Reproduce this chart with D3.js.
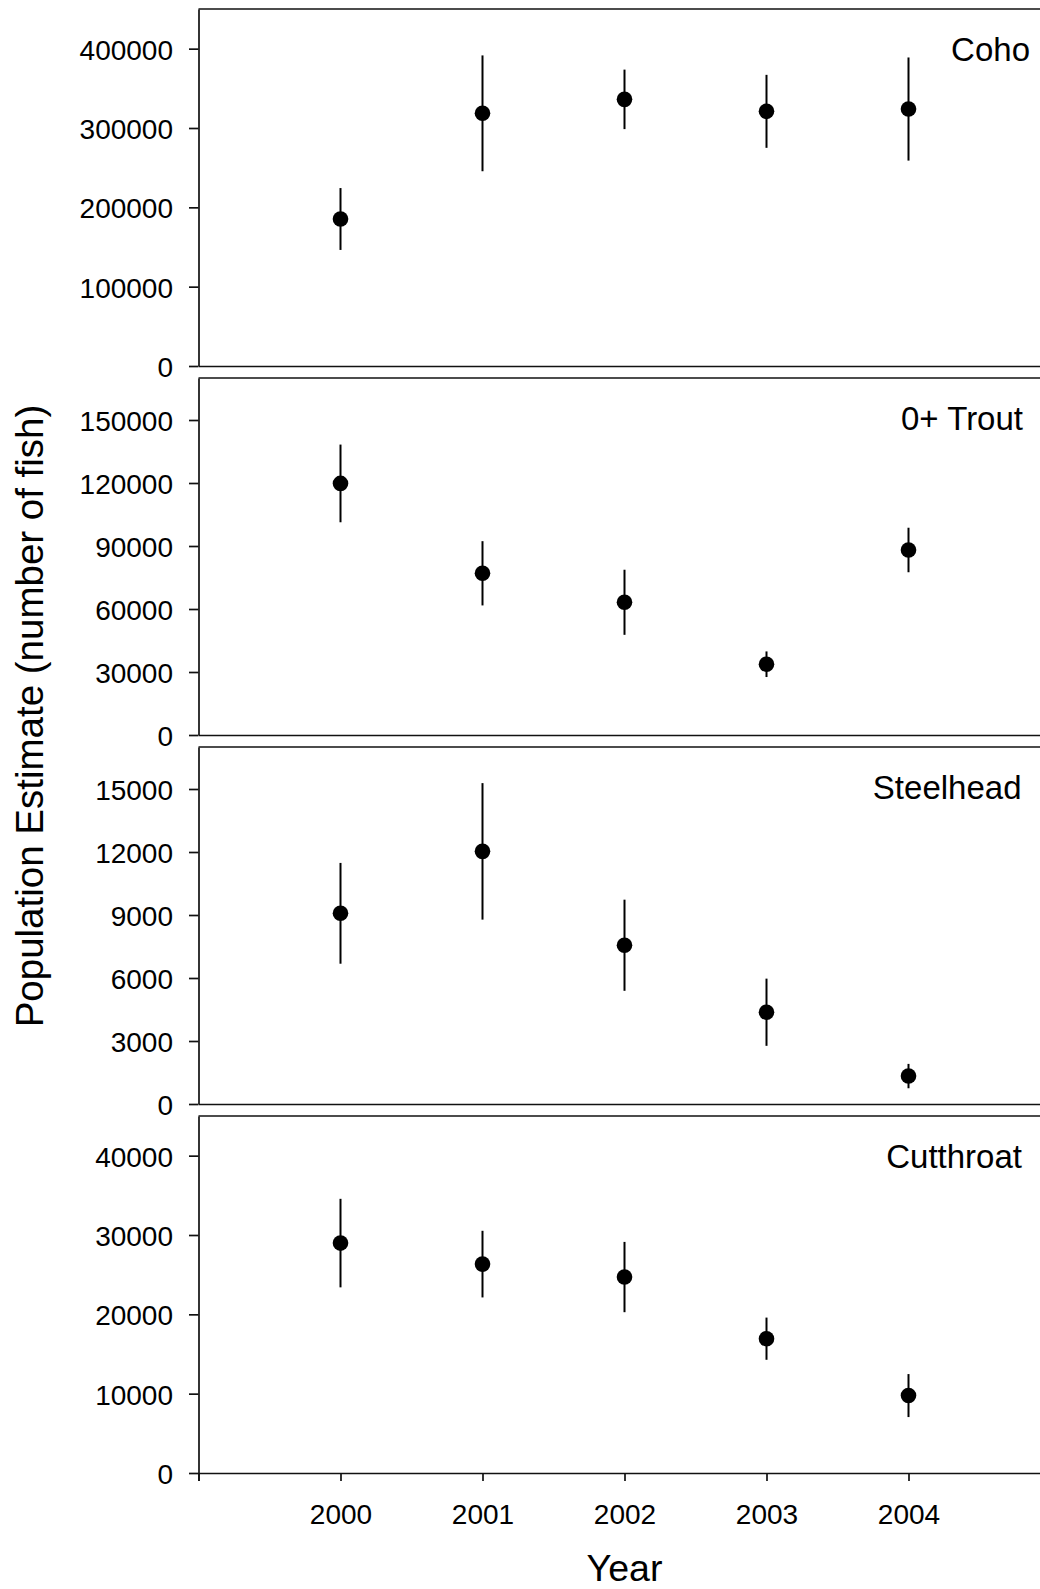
<!DOCTYPE html>
<html>
<head>
<meta charset="utf-8">
<script src="https://cdnjs.cloudflare.com/ajax/libs/d3/7.8.5/d3.min.js"></script>
<style>
	body { margin: 0; background: #fff; }
	svg { display: block; font-family: Arial, "Liberation Sans", sans-serif; }
</style>
</head>
<body>
<div id="plot"></div>
<script>
// data (estimate +/- half width of error bar)
var years = [2000, 2001, 2002, 2003, 2004];
var xTicks = [1999, 2000, 2001, 2002, 2003, 2004, 2005];
var species = ["Coho", "0+ Trout", "Steelhead", "Cutthroat"];

var cohoEst = [185300, 318500, 336100, 321000, 323900];
var cohoErr = [39000, 73000, 37500, 46000, 65000];
var troutEst = [119800, 77000, 63200, 33700, 88100];
var troutErr = [18500, 15300, 15500, 6100, 10600];
var steelEst = [9080, 12030, 7560, 4370, 1330];
var steelErr = [2400, 3250, 2170, 1600, 580];
var cuttEst = [28980, 26330, 24700, 16930, 9760];
var cuttErr = [5580, 4200, 4430, 2660, 2710];

var yMax = [450000, 170000, 17000, 45000];
var yTicks = [
	[0, 100000, 200000, 300000, 400000],
	[0, 30000, 60000, 90000, 120000, 150000],
	[0, 3000, 6000, 9000, 12000, 15000],
	[0, 10000, 20000, 30000, 40000]
];

var estimates = [cohoEst, troutEst, steelEst, cuttEst];
var errors = [cohoErr, troutErr, steelErr, cuttErr];

(function(){

	// layout
	var width = 1040, height = 1589;
	var left = 198.5, right = 1050.5;
	var firstTop = 9, panelH = 357, panelStep = 369;
	var labelRight = [1030, 1023, 1021.5, 1022];
	var fontFam = "Arial, 'Liberation Sans', sans-serif";

	var svg = d3.select("#plot").append("svg")
		.attr("width", width)
		.attr("height", height);

	var x = d3.scaleLinear().domain([1999, 2005]).range([left, right]);

	for (var p = 0; p < species.length; p++) {
		var pTop = firstTop + p * panelStep;
		var pBottom = pTop + panelH;
		var y = d3.scaleLinear().domain([0, yMax[p]]).range([pBottom, pTop]);
		var g = svg.append("g");

		// top border
		g.append("line")
			.attr("x1", left).attr("x2", right)
			.attr("y1", pTop).attr("y2", pTop)
			.attr("stroke", "#111").attr("stroke-width", 1.7);

		// bottom axis
		var xAxis = d3.axisBottom(x).tickValues(xTicks).tickSizeOuter(0);
		if (p == species.length - 1) {
			xAxis.tickSize(8).tickPadding(23)
				.tickFormat(function(d){ return years.indexOf(d) >= 0 ? d : ""; });
		} else {
			xAxis.tickSize(0).tickFormat("");
		}
		var xg = g.append("g")
			.attr("transform", "translate(0," + pBottom + ")")
			.call(xAxis);
		xg.select(".domain").attr("stroke", "#111").attr("stroke-width", 1.7);
		xg.selectAll(".tick line").attr("stroke", "#111").attr("stroke-width", 1.7);
		xg.selectAll("text").attr("fill", "#000")
			.style("font-size", "28px").style("font-family", fontFam);

		// left axis
		var yg = g.append("g")
			.attr("transform", "translate(" + left + ",0)")
			.call(d3.axisLeft(y).tickValues(yTicks[p]).tickSize(9.5).tickSizeOuter(0)
				.tickPadding(16).tickFormat(d3.format("d")));
		yg.select(".domain").attr("stroke", "#111").attr("stroke-width", 1.7);
		yg.selectAll(".tick line").attr("stroke", "#111").attr("stroke-width", 1.7);
		yg.selectAll("text").attr("fill", "#000").attr("dy", "0.38em")
			.style("font-size", "28px").style("font-family", fontFam);

		var rows = years.map(function(yr, i){
			return { year: yr, v: estimates[p][i], e: errors[p][i] };
		});

		g.selectAll(".err").data(rows).enter().append("line")
			.attr("class", "err")
			.attr("x1", function(d){ return x(d.year); })
			.attr("x2", function(d){ return x(d.year); })
			.attr("y1", function(d){ return y(d.v + d.e); })
			.attr("y2", function(d){ return y(d.v - d.e); })
			.attr("stroke", "#000").attr("stroke-width", 2);

		g.selectAll(".dot").data(rows).enter().append("circle")
			.attr("class", "dot")
			.attr("cx", function(d){ return x(d.year); })
			.attr("cy", function(d){ return y(d.v); })
			.attr("r", 7.8)
			.attr("fill", "#000");

		g.append("text")
			.text(species[p])
			.attr("x", labelRight[p])
			.attr("y", pTop + 51.5)
			.attr("text-anchor", "end")
			.style("font-size", "33px")
			.attr("fill", "#000");
	}

	// axis titles
	svg.append("text")
		.text("Population Estimate (number of fish)")
		.attr("text-anchor", "middle")
		.attr("transform", "translate(42.5,716) rotate(-90)")
		.style("font-size", "38.5px")
		.attr("fill", "#000");

	svg.append("text")
		.text("Year")
		.attr("text-anchor", "middle")
		.attr("x", (left + right) / 2)
		.attr("y", 1581)
		.style("font-size", "37.5px")
		.attr("fill", "#000");

})();
</script>
</body>
</html>
